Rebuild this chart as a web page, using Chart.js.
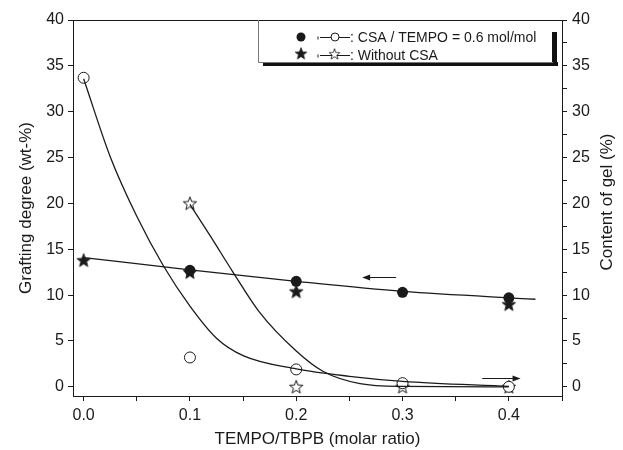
<!DOCTYPE html>
<html>
<head>
<meta charset="utf-8">
<script src="https://cdn.jsdelivr.net/npm/chart.js@4"></script>
<style>
  html, body { margin: 0; padding: 0; background: #fff; }
  #wrap { width: 623px; height: 450px; }
</style>
</head>
<body>
<div id="wrap"><canvas id="gelChart" width="623" height="450"></canvas></div>
<script>
// measured points (grafting degree, left axis)
const graftCsaX = [0.1, 0.2, 0.3, 0.4];
const graftCsaY = [12.7, 11.5, 10.3, 9.7];
const graftNoX = [0.0, 0.1, 0.2, 0.4];
const graftNoY = [13.8, 12.5, 10.4, 9.0];

// measured points (content of gel, right axis)
const gelCsaX = [0.0, 0.1, 0.2, 0.3, 0.4];
const gelCsaY = [33.7, 3.2, 1.9, 0.4, 0.0];
const gelNoX = [0.1, 0.2, 0.3, 0.4];
const gelNoY = [20.0, 0.0, 0.0, 0.0];

// fitted curves
const fitGraftX = [0.0, 0.1, 0.2, 0.3, 0.425];
const fitGraftY = [14.1, 12.75, 11.5, 10.4, 9.55];
const fitGelCsaX = [0.0, 0.025, 0.05, 0.075, 0.1, 0.125, 0.15, 0.2, 0.25, 0.3, 0.4];
const fitGelCsaY = [33.6, 25.1, 18.6, 13.2, 8.8, 5.3, 3.4, 1.95, 1.15, 0.6, 0.05];
const fitGelNoX = [0.1, 0.12, 0.14, 0.165, 0.2, 0.225, 0.26, 0.3, 0.4];
const fitGelNoY = [19.9, 16.3, 12.6, 8.2, 3.9, 1.7, 0.35, 0.05, 0.0];

// tick values
const xTickVals = [0, 0.05, 0.1, 0.15, 0.2, 0.25, 0.3, 0.35, 0.4, 0.45];
const yLeftTicks = [0, 5, 10, 15, 20, 25, 30, 35, 40];
const yRightTicks = [0, 2.5, 5, 7.5, 10, 12.5, 15, 17.5, 20, 22.5, 25, 27.5, 30, 32.5, 35, 37.5, 40];

// arrows [x0, x1, y]
const arrows = [[0.294, 0.262, 12.0], [0.375, 0.411, 1.0]];

const FONT = "'Liberation Sans', Arial, sans-serif";
const INK = '#1a1a1a';

const pts = (xs, ys) => xs.map((x, i) => ({ x: x, y: ys[i] }));

// star marker images
function makeStar(filled) {
    const c = document.createElement('canvas');
    c.width = 16; c.height = 16;
    const g = c.getContext('2d');
    g.beginPath();
    for (let i = 0; i < 10; i++) {
        const r = i % 2 === 0 ? 7 : 2.9;
        const a = -Math.PI / 2 + i * Math.PI / 5;
        const px = 8 + r * Math.cos(a), py = 8.5 + r * Math.sin(a);
        if (i === 0) g.moveTo(px, py); else g.lineTo(px, py);
    }
    g.closePath();
    g.fillStyle = filled ? INK : '#fff';
    g.fill();
    g.lineWidth = 1;
    g.strokeStyle = INK;
    g.stroke();
    return c;
}
const starFilled = makeStar(true);
const starOpen = makeStar(false);

const framePlugin = {
    id: 'frame',
    afterDatasetsDraw(chart) {
        const { ctx, chartArea: a, scales } = chart;
        ctx.save();
        ctx.strokeStyle = INK;
        ctx.lineWidth = 1;
        ctx.beginPath();
        ctx.moveTo(a.left, a.top + 0.5);
        ctx.lineTo(a.right, a.top + 0.5);
        ctx.stroke();

        // arrows
        arrows.forEach(([x0, x1, y]) => {
            const px0 = scales.x.getPixelForValue(x0);
            const px1 = scales.x.getPixelForValue(x1);
            const py = Math.round(scales.y.getPixelForValue(y)) + 0.5;
            const dir = Math.sign(px1 - px0);
            ctx.beginPath();
            ctx.moveTo(px0, py);
            ctx.lineTo(px1 - dir * 6, py);
            ctx.stroke();
            ctx.beginPath();
            ctx.moveTo(px1, py);
            ctx.lineTo(px1 - dir * 8, py - 3);
            ctx.lineTo(px1 - dir * 8, py + 3);
            ctx.closePath();
            ctx.fillStyle = INK;
            ctx.fill();
        });

        // right axis title, reading bottom to top like the left one
        ctx.save();
        ctx.translate(607, (a.top + a.bottom) / 2 - 6);
        ctx.rotate(-Math.PI / 2);
        ctx.font = '17px ' + FONT;
        ctx.fillStyle = INK;
        ctx.textAlign = 'center';
        ctx.textBaseline = 'middle';
        ctx.fillText('Content of gel (%)', 0, 0);
        ctx.restore();

        // legend box with shadow
        const bx = 258, by = a.top, bw = 295, bh = 42;
        ctx.fillStyle = '#111';
        ctx.fillRect(bx + 5, by + bh, bw, 4);
        ctx.fillRect(bx + bw - 1, by + 12, 5, bh - 8);
        ctx.strokeStyle = '#777';
        ctx.beginPath();
        ctx.moveTo(bx + 0.5, by);
        ctx.lineTo(bx + 0.5, by + bh + 0.5);
        ctx.lineTo(bx + bw, by + bh + 0.5);
        ctx.stroke();

        const rows = [
            { y: by + 17, mark: 'circle', text: ': CSA / TEMPO = 0.6 mol/mol' },
            { y: by + 35, mark: 'star', text: ': Without CSA' }
        ];
        rows.forEach(r => {
            if (r.mark === 'circle') {
                ctx.beginPath();
                ctx.arc(301, r.y, 4.5, 0, Math.PI * 2);
                ctx.fillStyle = INK;
                ctx.fill();
            } else {
                ctx.drawImage(starFilled, 294, r.y - 8.5, 14, 14);
            }
            ctx.strokeStyle = INK;
            ctx.lineWidth = 1;
            ctx.beginPath();
            ctx.moveTo(318, r.y - 0.5);
            ctx.lineTo(318, r.y + 2.5);
            ctx.moveTo(320, r.y + 0.5);
            ctx.lineTo(350, r.y + 0.5);
            ctx.stroke();
            if (r.mark === 'circle') {
                ctx.beginPath();
                ctx.arc(335, r.y, 4, 0, Math.PI * 2);
                ctx.fillStyle = '#fff';
                ctx.fill();
                ctx.stroke();
            } else {
                ctx.drawImage(starOpen, 328, r.y - 7.5, 13, 13);
            }
            ctx.fillStyle = INK;
            ctx.font = '14px ' + FONT;
            ctx.textBaseline = 'middle';
            ctx.fillText(r.text, 350, r.y + 1);
        });
        ctx.restore();
    }
};

const lineStyle = {
    type: 'line', showLine: true, pointRadius: 0, borderColor: INK, borderWidth: 1.3,
    cubicInterpolationMode: 'monotone', fill: false
};

const ctx = document.getElementById('gelChart').getContext('2d');
const gelChart = new Chart(ctx, {
    type: 'scatter',
    data: {
        datasets: [
            Object.assign({ label: 'fit grafting', data: pts(fitGraftX, fitGraftY), yAxisID: 'y' }, lineStyle),
            Object.assign({ label: 'fit gel CSA', data: pts(fitGelCsaX, fitGelCsaY), yAxisID: 'y2' }, lineStyle),
            Object.assign({ label: 'fit gel no CSA', data: pts(fitGelNoX, fitGelNoY), yAxisID: 'y2' }, lineStyle),
            {
                label: 'Grafting, CSA', data: pts(graftCsaX, graftCsaY), yAxisID: 'y',
                pointStyle: 'circle', pointRadius: 5.5, backgroundColor: INK, borderColor: INK, borderWidth: 0
            },
            {
                label: 'Grafting, without CSA', data: pts(graftNoX, graftNoY), yAxisID: 'y',
                pointStyle: starFilled, pointRadius: 8
            },
            {
                label: 'Gel, CSA', data: pts(gelCsaX, gelCsaY), yAxisID: 'y2',
                pointStyle: 'circle', pointRadius: 5.5, backgroundColor: '#fff', borderColor: INK, borderWidth: 1
            },
            {
                label: 'Gel, without CSA', data: pts(gelNoX, gelNoY), yAxisID: 'y2',
                pointStyle: starOpen, pointRadius: 8
            }
        ]
    },
    options: {
        responsive: false,
        animation: false,
        layout: { padding: { top: 20, left: 0, right: 0, bottom: 0 } },
        plugins: { legend: { display: false }, tooltip: { enabled: false } },
        scales: {
            x: {
                type: 'linear', min: -0.01, max: 0.45,
                afterBuildTicks: s => { s.ticks = xTickVals.map(v => ({ value: v })); },
                afterFit: s => { s.height = 54; },
                ticks: {
                    autoSkip: false, maxRotation: 0, padding: 5, color: INK,
                    font: { family: FONT, size: 16 },
                    callback: v => (Math.abs(v * 10 - Math.round(v * 10)) < 1e-6 && v <= 0.4) ? v.toFixed(1) : ''
                },
                grid: { drawOnChartArea: false, tickLength: 5, color: INK },
                border: { color: INK, width: 1 },
                title: { display: true, text: 'TEMPO/TBPB (molar ratio)', color: INK, font: { family: FONT, size: 17 }, padding: { top: 0, bottom: 0 } }
            },
            y: {
                type: 'linear', position: 'left', min: -1, max: 40,
                afterBuildTicks: s => { s.ticks = yLeftTicks.map(v => ({ value: v })); },
                afterFit: s => { s.width = 73; },
                ticks: { padding: 4, color: INK, font: { family: FONT, size: 16 } },
                grid: { drawOnChartArea: false, tickLength: 5, color: INK },
                border: { color: INK, width: 1 },
                title: { display: true, text: 'Grafting degree (wt-%)', color: INK, font: { family: FONT, size: 17 }, padding: { top: 16, bottom: 0 } }
            },
            y2: {
                type: 'linear', position: 'right', min: -1, max: 40,
                afterBuildTicks: s => { s.ticks = yRightTicks.map(v => ({ value: v })); },
                afterFit: s => { s.width = 61; },
                ticks: {
                    padding: 5, color: INK, font: { family: FONT, size: 16 },
                    callback: v => (v % 5 === 0) ? String(v) : ''
                },
                grid: { drawOnChartArea: false, tickLength: 5, color: INK },
                border: { color: INK, width: 1 },
                title: { display: false }
            }
        }
    },
    plugins: [framePlugin]
});
</script>
</body>
</html>
